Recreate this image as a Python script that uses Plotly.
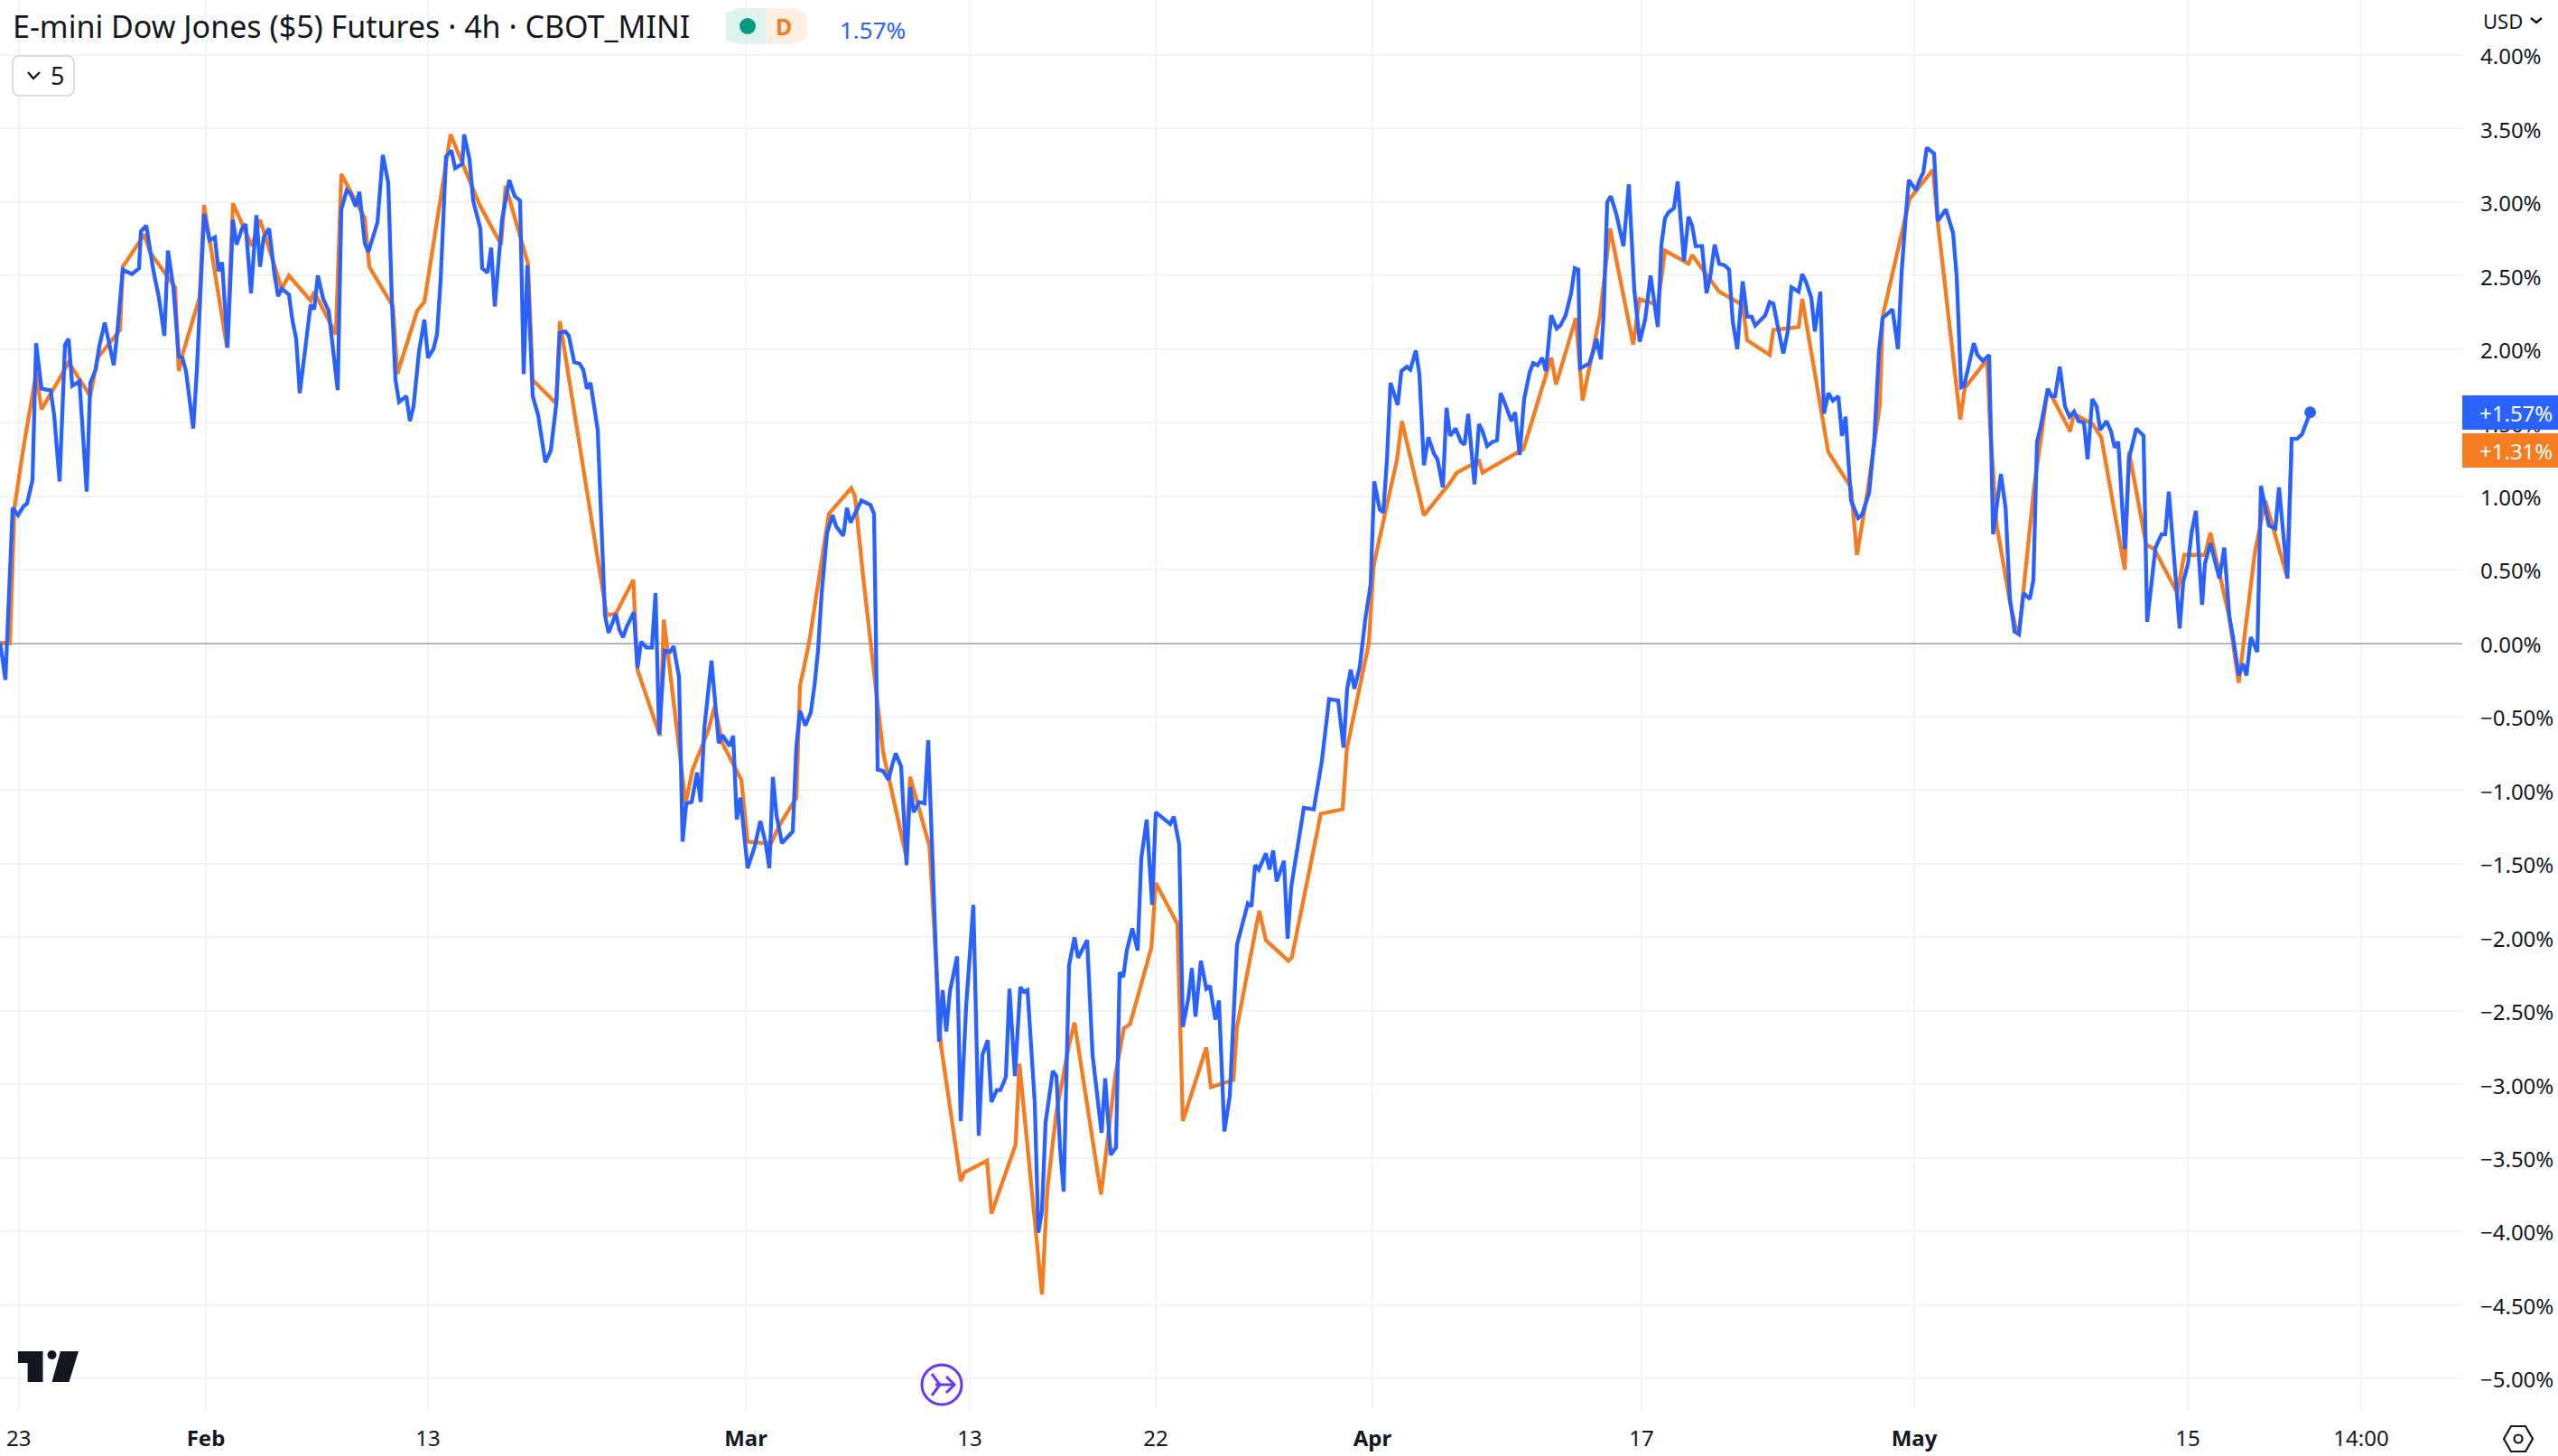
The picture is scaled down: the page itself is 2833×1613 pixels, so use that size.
import plotly.graph_objects as go

W, H = 2833, 1613
PLOT_R, PLOT_B = 2727, 1562

blue_bar = [0,1,3,7,10,13,15,18,20,23,28,30,33,36,38,40,44,48,50,53,55,58,63,65,68,73,77,78,81,85,88,91,93,96,99,101,103,107,109,111,113,116,119,121,123,126,129,131,134,136,139,142,144,146,149,152,154,156,160,162,164,166,169,172,174,176,179,182,187,189,192,194,197,199,202,204,209,212,215,217,219,221,225,227,229,232,235,237,240,242,244,247,250,252,256,257,260,262,266,267,270,272,274,278,282,285,288,290,292,295,298,302,305,308,310,313,315,318,321,323,325,327,331,333,
335,337,341,343,345,347,351,353,355,358,361,363,365,368,371,373,376,378,380,383,386,388,390,394,396,398,400,404,406,408,410,412,414,418,421,424,426,428,430,433,439,441,443,446,449,451,453,455,458,461,463,467,469,471,477,482,484,485,486,489,492,494,496,499,502,504,506,509,512,514,
520,522,524,526,530,532,535,539,542,544,547,549,552,554,557,559,562,565,567,569,573,575,577,579,583,585,587,589,592,595,597,602,605,610,612,615,618,620,622,624,627,630,632,635,638,640,642,648,650,653,655,658,660,662,665,668,670,673,675,678,681,685,691,693,695,697,701,703,705,707,711,713,715,722,727.5,732,736,741,
744,746,748,750,753,756,759,761,764,766,768,770,774,776,779,781,784,786,788.5,791,794,796,799,801,803,806,809,811,813,816.5,819,821,823.5,826.6,829,831,833,837,839,841.5,844,847,849,851.5,854,856,859,862,864,867,870,872,874,875,880,883,884,886.5,888,890,892,895,899,902,905,908,911,914,918,
920,922,924,927,929,932.5,935,937,939,942.5,945,947,949.5,952,955,957.5,959.5,962,965,967.5,970,972,977.5,980,982,985,987.5,990,992,996,998,1000,1003,1005,1008,1010,1012.5,1015,1018,1020,1022,1025,1029,1031,1035,1038,1040.5,1042.5,1048,1051,1053,1055.5,1057,1061,1063,1065,1067,1071,1073,1077.5,1081.5,1083.5,1086,1087.6,1091,1093,1095,1098,1101.5,1103.7,1108,1110.6,1113,1115.6,1118,1120.5,1124,1126,1128,1130,1134,1136,1138,1140.6,1143.5,1146,1148.5,1151,1154,1156,1158.6,1161,1163,1166.5,1169,1171,1173,1176.6,1179,1183,1187,1189,1193.6,1197,1199,1201,1207,1209,1211.6,1213.7,1216,1219.4,1221,1224,1229,1231.7,1234.5,1236.7,1239.7,1242,1244,1246.4,1250,1252,1256.4,1260,1262,1266.7,1269,1272,1274.7,1279.3]

blue_pct = [0.0,-0.07,-0.25,0.92,0.87,0.93,0.95,1.11,2.04,1.73,1.72,1.55,1.10,2.03,2.07,1.75,1.78,1.03,1.77,1.86,2.02,2.18,1.89,2.12,2.54,2.51,2.55,2.80,2.84,2.53,2.35,2.09,2.67,2.42,1.95,1.94,1.85,1.46,1.85,2.38,2.92,2.74,2.76,2.53,2.59,2.01,2.88,2.71,2.82,2.85,2.38,2.91,2.56,2.76,2.82,2.51,2.36,2.41,2.37,2.19,2.07,1.70,2.01,2.30,2.27,2.50,2.34,2.26,1.72,2.95,3.08,3.06,2.97,3.07,2.72,2.66,2.86,3.32,3.13,2.33,1.79,1.64,1.68,1.51,1.61,1.98,2.20,1.94,2.00,2.10,2.47,3.31,3.35,3.23,3.26,3.46,3.29,3.01,2.82,2.55,2.52,2.69,2.29,2.88,3.15,3.04,3.01,1.83,2.57,1.68,1.55,1.23,1.31,1.62,2.11,2.12,2.09,1.91,1.90,1.86,1.73,1.77,1.45,0.75,
0.19,0.07,0.20,0.09,0.04,0.11,0.21,-0.17,0.01,-0.03,-0.03,0.34,-0.62,-0.05,-0.06,-0.02,-0.23,-1.35,-1.09,-1.08,-0.88,-1.08,-0.58,-0.12,-0.43,-0.68,-0.625,-0.70,-0.63,-1.20,-1.05,-1.27,-1.53,-1.38,-1.21,-1.36,-1.53,-0.91,-1.17,-1.36,-1.28,-0.70,-0.46,-0.56,-0.47,-0.29,-0.05,0.34,0.75,0.87,0.795,0.73,0.92,0.82,0.97,0.94,0.88,0.08,-0.86,-0.87,-0.93,-0.83,-0.75,-0.84,-1.51,-0.98,-1.15,-1.08,-1.09,-0.66,
-2.71,-2.36,-2.64,-2.37,-2.13,-3.25,-2.47,-1.78,-3.35,-2.80,-2.70,-3.12,-3.04,-3.04,-2.95,-2.35,-2.945,-2.34,-2.37,-2.36,-3.125,-4.01,-3.86,-3.26,-2.91,-2.945,-3.43,-3.73,-2.19,-2.0,-2.14,-2.02,-2.80,-3.33,-2.96,-3.48,-3.43,-2.24,-2.27,-2.09,-1.94,-2.09,-1.46,-1.2,-1.78,-1.15,-1.17,-1.23,-1.18,-1.37,-2.61,-2.42,-2.21,-2.54,-2.16,-2.35,-2.33,-2.56,-2.43,-3.32,-3.08,-2.05,-1.77,-1.79,-1.51,-1.54,-1.43,-1.54,-1.41,-1.62,-1.48,-2.01,-1.66,-1.12,-1.13,-0.80,-0.38,-0.39,
-0.71,-0.31,-0.18,-0.31,-0.16,0.16,0.40,1.10,0.91,0.89,1.24,1.77,1.62,1.85,1.88,1.86,1.99,1.83,1.21,1.40,1.29,1.25,1.06,1.60,1.41,1.46,1.37,1.35,1.56,1.08,1.49,1.44,1.34,1.37,1.38,1.70,1.64,1.51,1.57,1.28,1.66,1.84,1.905,1.89,1.94,1.85,2.23,2.14,2.16,2.23,2.38,2.55,2.54,1.87,1.90,2.01,2.07,1.93,2.23,3.0,3.04,2.92,2.7,3.12,2.4,2.05,2.2,2.5,2.15,2.71,
2.89,2.93,2.96,3.14,2.6,2.90,2.84,2.70,2.70,2.38,2.49,2.71,2.58,2.57,2.54,2.19,2.0,2.46,2.22,2.22,2.16,2.23,2.32,2.31,2.12,1.97,2.12,2.42,2.39,2.51,2.46,2.35,2.12,2.39,1.56,1.70,1.65,1.68,1.41,1.54,0.97,0.85,0.87,1.02,1.40,1.99,2.21,2.27,2.0,2.52,2.93,3.15,3.08,3.15,3.20,3.37,3.33,2.87,2.95,2.79,2.50,1.74,1.75,1.93,2.04,1.96,1.92,1.96,0.74,1.15,0.92,0.30,0.08,0.06,0.34,0.30,0.43,1.37,1.47,1.73,1.68,1.68,1.88,1.61,1.54,1.575,1.51,1.50,1.25,1.66,1.61,1.45,1.51,1.44,1.33,1.37,0.64,1.26,1.46,1.41,0.145,0.65,0.74,0.74,1.03,0.10,0.42,0.54,0.76,0.90,0.26,0.54,0.68,0.44,0.65,0.18,0.03,-0.22,-0.14,-0.22,0.04,-0.06,1.07,0.80,0.78,1.06,0.44,1.39,1.39,1.42,1.57]

orange_bar = [0,5.5,8,13,20,23,33,38,50,54,66.5,68,80,83,97,99,101,110.5,113,125.7,129,139.5,144,156,160,172,174,186,189,202,204.5,217.6,220,231,235,249.5,265.6,277.5,280,292.4,295,308,310,336,341,350.7,353,365.4,367.6,376,379.7,383.5,392,395.8,400,410.5,414,424,427,432,441,443,448,459,471.4,473.4,478,489,501.6,504,514.7,521,532,534,546.6,549,562.4,564.5,577,580,585,591.7,595,609.7,614.7,617.5,622.3,625.8,637.6,640,652,655,668,670.5,683,685,697.3,701,713.4,715.3,731.4,743.5,745.8,755.5,758,760.7,767,773.6,776.3,788.5,803,806.7,819,821,843.6,859,861.7,872.6,876.4,886,891.6,901,904.4,907.8,918,922,935,937,952,965,967.5,980,982,996,998,1012.4,1025,1028.3,1034.4,1041,1042.5,1057.4,1070.4,1073,1085.5,1088,1100.4,1102,1105.6,1113,1116.7,1118,1126.3,1134,1146.4,1148.3,1158.8,1163.6,1176.6,1179,1188.4,1193,1205.7,1209.5,1221,1224,1229.6,1234.4,1239.7,1248.7,1254.4,1266.3,1269]

orange_pct = [0.0,0.0,0.92,1.33,1.83,1.59,1.80,1.91,1.68,1.94,2.13,2.56,2.78,2.66,2.42,1.85,1.96,2.35,2.98,2.01,2.99,2.70,2.88,2.41,2.50,2.33,2.39,2.10,3.19,2.89,2.56,2.29,1.83,2.26,2.32,3.46,2.98,2.71,3.11,2.58,1.79,1.63,2.19,0.19,0.20,0.43,-0.18,-0.63,0.16,-0.72,-1.09,-0.86,-0.60,-0.43,-0.68,-0.93,-1.35,-1.36,-1.36,-1.23,-1.05,-0.29,0.0,0.88,1.055,1.0,0.45,-0.74,-1.44,-0.91,-1.38,-2.73,-3.66,-3.60,-3.52,-3.88,-3.41,-2.86,-4.43,-3.71,-3.19,-2.75,-2.58,-3.75,-3.23,-2.95,-2.62,-2.59,-2.07,-1.63,-1.91,-3.25,-2.75,-3.02,-2.97,-2.61,-1.82,-2.02,-2.16,-2.14,-1.16,-1.13,-0.72,-0.16,0.0,0.53,0.89,1.25,1.51,0.87,1.09,1.16,1.24,1.16,1.32,1.94,1.76,2.21,1.65,2.23,2.82,2.23,2.03,2.34,2.30,2.67,2.58,2.64,2.39,2.30,2.06,1.96,2.13,2.15,2.34,1.30,1.06,0.60,1.05,1.63,2.22,3.02,3.22,2.87,1.52,1.735,1.93,1.48,0.81,0.28,0.08,0.06,1.05,1.73,1.44,1.56,1.49,1.40,0.50,1.30,0.67,0.64,0.34,0.60,0.60,0.75,0.44,0.18,-0.27,0.62,0.97,0.46,1.31]

tick_bars = [10.4,114,237,413,537,640,760,909,1060,1211.5,1307.5]
tick_text = ["23","<b>Feb</b>","13","<b>Mar</b>","13","22","<b>Apr</b>","17","<b>May</b>","15","14:00"]
pct_ticks = [4.0,3.5,3.0,2.5,2.0,1.5,1.0,0.5,0.0,-0.5,-1.0,-1.5,-2.0,-2.5,-3.0,-3.5,-4.0,-4.5,-5.0]
pct_text = [("\u2212" if v < 0 else "") + f"{abs(v):.2f}%" for v in pct_ticks]

BLUE, ORANGE, INK, GRID = "#2962ff", "#f57c20", "#131722", "#f2f3f5"
FONT = "Noto Sans"

def px(x): return x / PLOT_R
def py(y): return 1 - y / PLOT_B
def path(pts, close=False):
    return "M" + " L".join(f"{px(a):.5f},{py(b):.5f}" for a, b in pts) + (" Z" if close else "")

def shape_rect(x0, y0, x1, y1, fill, line=None, w=0):
    return dict(type="rect", xref="paper", yref="paper", x0=px(x0), x1=px(x1), y0=py(y0), y1=py(y1),
                fillcolor=fill, line=dict(color=line or fill, width=w), layer="above")
def shape_circle(cx, cy, r, fill="rgba(0,0,0,0)", line=None, w=0):
    return dict(type="circle", xref="paper", yref="paper", x0=px(cx-r), x1=px(cx+r), y0=py(cy+r), y1=py(cy-r),
                fillcolor=fill, line=dict(color=line or fill, width=w), layer="above")
def shape_path(pts, fill=None, line=None, w=0, close=False):
    return dict(type="path", xref="paper", yref="paper", path=path(pts, close),
                fillcolor=fill or "rgba(0,0,0,0)", line=dict(color=line or "rgba(0,0,0,0)", width=w), layer="above")
def text(x, y, s, color=INK, size=24, anchor="left"):
    return dict(xref="paper", yref="paper", x=px(x), y=py(y), text=s, showarrow=False, xanchor=anchor, yanchor="middle",
                font=dict(family=FONT, size=size, color=color), borderpad=0, borderwidth=0)

fig = go.Figure()
fig.add_trace(go.Scatter(x=orange_bar, y=orange_pct, mode="lines", line=dict(color=ORANGE, width=4.3), hoverinfo="skip"))
fig.add_trace(go.Scatter(x=blue_bar, y=blue_pct, mode="lines", line=dict(color=BLUE, width=4.3), hoverinfo="skip"))
fig.add_trace(go.Scatter(x=blue_bar[-1:], y=blue_pct[-1:], mode="markers", marker=dict(color=BLUE, size=13), hoverinfo="skip"))

shapes = [
    shape_path([(804+14,9),(804,14),(804,44),(818,49),(848,49),(848,9)], fill="#dff3ee", close=True),
    shape_path([(848,9),(880,9),(893,16),(893,42),(880,49),(848,49)], fill="#fff0e1", close=True),
    shape_circle(828, 29, 9, fill="#089981"),
    dict(type="path", xref="paper", yref="paper",
         path=f"M{px(22):.5f},{py(62):.5f} L{px(74):.5f},{py(62):.5f} Q{px(82):.5f},{py(62):.5f} {px(82):.5f},{py(70):.5f} L{px(82):.5f},{py(98):.5f} Q{px(82):.5f},{py(106):.5f} {px(74):.5f},{py(106):.5f} L{px(22):.5f},{py(106):.5f} Q{px(14):.5f},{py(106):.5f} {px(14):.5f},{py(98):.5f} L{px(14):.5f},{py(70):.5f} Q{px(14):.5f},{py(62):.5f} {px(22):.5f},{py(62):.5f} Z",
         fillcolor="#ffffff", line=dict(color="#d1d4dc", width=1.5), layer="above"),
    shape_path([(31,80),(37,87),(44,80)], line=INK, w=2.4),
    shape_path([(2803,20),(2809,25),(2815,20)], line=INK, w=2.4),
    shape_rect(2727, 438, 2833, 476, BLUE),
    shape_rect(2727, 480, 2833, 518, ORANGE),
    shape_path([(20,1497),(47.5,1497),(47.5,1531),(30.6,1531),(30.6,1510),(20,1510)], fill=INK, close=True),
    shape_circle(57.5, 1501, 5, fill=INK),
    shape_path([(67,1497),(87,1497),(76.5,1531),(57.5,1531)], fill=INK, close=True),
    shape_circle(1043, 1534, 22, fill="#ffffff", line="#6a36f5", w=3),
    shape_path([(1032,1522),(1041,1534),(1032,1546)], line="#6a36f5", w=3),
    shape_path([(1036,1534),(1056,1534)], line="#6a36f5", w=3),
    shape_path([(1048,1525),(1057,1534),(1048,1543)], line="#6a36f5", w=3),
    shape_path([(2773,1594),(2781,1580),(2797,1580),(2805,1594),(2797,1608),(2781,1608)], line=INK, w=2.2, close=True),
    shape_circle(2789, 1594, 4.5, line=INK, w=2.2),
]

annotations = [
    text(14, 29, "E-mini Dow Jones ($5) Futures \u00b7 4h \u00b7 CBOT_MINI", size=34),
    text(868, 29, "<b>D</b>", color="#f57c20", size=25, anchor="center"),
    text(930, 33, "1.57%", color=BLUE, size=26),
    text(56, 83, "5", size=27),
    text(2750, 23, "USD", size=22),
    text(2746, 457, "+1.57%", color="#ffffff", size=24),
    text(2746, 499, "+1.31%", color="#ffffff", size=24),
]

fig.update_layout(
    width=W, height=H, margin=dict(l=0, r=W-PLOT_R, t=0, b=H-PLOT_B, pad=0),
    paper_bgcolor="#ffffff", plot_bgcolor="#ffffff", showlegend=False,
    font=dict(family=FONT, color=INK, size=24), shapes=shapes, annotations=annotations,
    xaxis=dict(range=[0, PLOT_R/2], tickmode="array", tickvals=tick_bars, ticktext=tick_text, showgrid=True,
               gridcolor=GRID, gridwidth=1.6, zeroline=False, showline=False, ticks="", tickfont=dict(size=24, color=INK),
               ticklabelstandoff=15),
    yaxis=dict(range=[-5.215, 4.374], side="right", tickmode="array", tickvals=pct_ticks, ticktext=pct_text, showgrid=True,
               gridcolor=GRID, gridwidth=1.6, zeroline=True, zerolinecolor="#b2b5be", zerolinewidth=2, showline=False,
               ticks="", tickfont=dict(size=24, color=INK), ticklabelstandoff=19, ticklabelshift=2, automargin=False),
)

fig.write_html("out.html", post_script="document.body.style.margin='0';document.body.style.overflow='hidden';", config=dict(displayModeBar=False))
